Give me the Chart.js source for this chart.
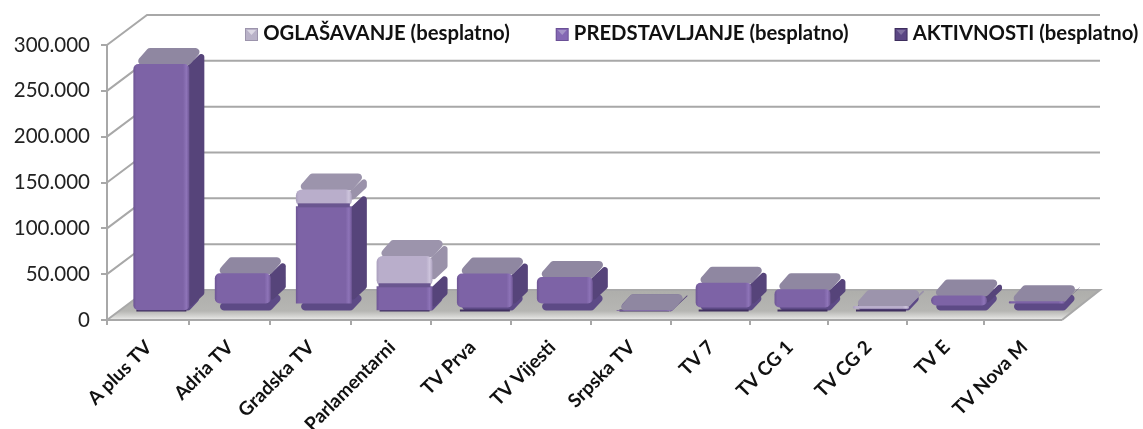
<!DOCTYPE html>
<html><head><meta charset="utf-8">
<style>html,body{margin:0;padding:0;background:#fff}#w{width:1143px;height:429px;position:relative}</style>
<script src="https://cdn.jsdelivr.net/npm/chart.js@4/dist/chart.umd.min.js"></script>
</head><body><div id="w"><canvas id="c" width="1143" height="429"></canvas></div>
<script>
const categories=['A plus TV','Adria TV','Gradska TV','Parlamentarni','TV Prva','TV Vijesti','Srpska TV','TV 7','TV CG 1','TV CG 2','TV E','TV Nova M'];
const aktivnosti=[1500,8700,8700,1500,4400,8700,500,4400,4400,3000,6500,8700];
const predstavljanje=[268500,33000,106000,26000,37000,29000,1000,27000,20000,0,11000,2500];
const oglasavanje=[0,0,18500,33000,0,0,0,0,0,3000,0,0];
const seriesNames=['AKTIVNOSTI (besplatno)','PREDSTAVLJANJE (besplatno)','OGLAŠAVANJE (besplatno)'];
const legendColors=[['#5b4784','#3d2d5c','#7f70a0'],['#8468b4','#6a5096','#a594c8'],['#b9b2c8','#9c94ac','#dcd8e4']];
const yTicks=[0,50000,100000,150000,200000,250000,300000];

const DEPTH_X=40,DEPTH_Y=30;
const BAR_DX=13.5,BAR_DY=8.5;
const CAP_X=15,CAP_Y=16;
const GRID='#a8a8a8';
const LEGEND_X=245,LEGEND_Y=33,LEGEND_FONT=20.3,LEGEND_PAD=46,LEGEND_BOX=8;

class PerspectiveCategory extends Chart.CategoryScale{
  getPixelForValue(v){
    const p=super.getPixelForValue(v);
    const u=(p-this.left)/this.width;
    return p+this.width*.028*u*(1-u);
  }
}
PerspectiveCategory.id='perspective';
PerspectiveCategory.defaults=Chart.CategoryScale.defaults;
Chart.register(PerspectiveCategory);

function roundPoly(ctx,pts,r){
  const n=pts.length;
  let m=r;
  for(let i=0;i<n;i++){
    const p=pts[i],q=pts[(i+1)%n];
    m=Math.min(m,Math.hypot(p[0]-q[0],p[1]-q[1])*.3);
  }
  ctx.beginPath();
  ctx.moveTo((pts[n-1][0]+pts[0][0])/2,(pts[n-1][1]+pts[0][1])/2);
  for(let i=0;i<n;i++){
    const p=pts[i],q=pts[(i+1)%n];
    ctx.arcTo(p[0],p[1],q[0],q[1],m);
  }
  ctx.closePath();
}
function faceGradient(base,light,edge){
  return function(context){
    const chart=context.chart;
    if(!chart.chartArea||!chart.scales.x) return base;
    const el=chart.getDatasetMeta(context.datasetIndex).data[context.dataIndex];
    const w=el&&el.width?el.width:57;
    const x=chart.scales.x.getPixelForValue(context.dataIndex);
    const g=chart.ctx.createLinearGradient(x-w/2,0,x+w/2,0);
    g.addColorStop(0,edge);g.addColorStop(.06,base);g.addColorStop(.88,base);
    g.addColorStop(.94,light);g.addColorStop(1,edge);
    return g;
  };
}
const scene={
  id:'scene',
  beforeLayout(chart){
    const lg=chart.legend;
    if(lg&&!lg._flat){
      lg._flat=true;
      const fit=lg.fit;
      lg.fit=function(){fit.call(this);this.height=0;};
    }
  },
  afterLayout(chart){
    const lg=chart.legend;
    lg.left=LEGEND_X-LEGEND_PAD;lg.right=1400;lg.top=LEGEND_Y-10-LEGEND_PAD;lg.bottom=LEGEND_Y+30;
  },
  beforeDatasetsDraw(chart){
    const {ctx,chartArea:a,scales:{y}}=chart;
    ctx.save();
    ctx.font='bold '+LEGEND_FONT+'px Lato';
    let lx=LEGEND_X;
    [2,1,0].forEach(i=>{
      const c=legendColors[i],bx=lx,by=LEGEND_Y-5;
      ctx.fillStyle=c[1];ctx.fillRect(bx,by,13,13);
      ctx.fillStyle=c[0];ctx.fillRect(bx+1,by+1,11,11);
      ctx.fillStyle=c[2];ctx.beginPath();ctx.moveTo(bx+2,by+2);ctx.lineTo(bx+11,by+2);ctx.lineTo(bx+6.5,by+7);ctx.closePath();ctx.fill();
      lx+=LEGEND_BOX+LEGEND_FONT/2+ctx.measureText(seriesNames[i]).width+LEGEND_PAD;
    });
    const yb=y.getPixelForValue(0);
    const f=ctx.createLinearGradient(0,yb-DEPTH_Y,0,yb);
    f.addColorStop(0,'#aeaeab');f.addColorStop(.7,'#b6b6b3');f.addColorStop(.93,'#dededc');f.addColorStop(1,'#f2f2f1');
    ctx.fillStyle=f;
    ctx.beginPath();ctx.moveTo(a.left,yb);ctx.lineTo(a.left+DEPTH_X,yb-DEPTH_Y);
    ctx.lineTo(a.right+DEPTH_X-2,yb-DEPTH_Y);ctx.lineTo(a.right,yb);ctx.closePath();ctx.fill();
    ctx.strokeStyle=GRID;ctx.lineWidth=2;
    yTicks.forEach(v=>{
      const p=y.getPixelForValue(v);
      ctx.beginPath();ctx.moveTo(a.left,p);ctx.lineTo(a.left+DEPTH_X,p-DEPTH_Y);
      ctx.lineTo(a.right+DEPTH_X-2,p-DEPTH_Y);
      if(v===0) ctx.lineTo(a.right,p);
      ctx.stroke();
    });
    ctx.beginPath();ctx.moveTo(a.left,yb);ctx.lineTo(a.right,yb);ctx.stroke();
    ctx.translate(BAR_DX,-BAR_DY);
    for(let j=0;j<categories.length;j++){
      const d=chart.getDatasetMeta(0).data[j];
      const x0=d.x-d.width/2,x1=d.x+d.width/2;
      ctx.fillStyle='#5d4a86';
      roundPoly(ctx,[[x0,d.base],[x1,d.base],[x1+CAP_X,d.base-CAP_Y],[x0+CAP_X,d.base-CAP_Y]],4);ctx.fill();
      if(aktivnosti[j]<5000){
        ctx.fillStyle='#40305f';
        ctx.fillRect(x0+3,d.base-1,d.width-6,2);
      }
      const pe=chart.getDatasetMeta(1).data[j],le=chart.getDatasetMeta(2).data[j];
      const hasP=predstavljanje[j]>0,hasL=oglasavanje[j]>0;
      if(hasP){
        ctx.fillStyle='#56447a';
        roundPoly(ctx,[[x1-2,pe.y+2],[x1+CAP_X,pe.y-CAP_Y+2],[x1+CAP_X,pe.base-CAP_Y],[x1-2,pe.base]],3);ctx.fill();
      }
      if(hasL){
        ctx.fillStyle='#9a92aa';
        roundPoly(ctx,[[x1-2,le.y+2],[x1+CAP_X,le.y-CAP_Y+2],[x1+CAP_X,le.base-CAP_Y-3],[x1-2,le.base-3]],3);ctx.fill();
      }
      const topY=hasL?le.y:(hasP?pe.y:d.base);
      ctx.fillStyle=hasL?'#9c94ac':'#8f87a1';
      roundPoly(ctx,[[x0,topY+1],[x1,topY+1],[x1+CAP_X,topY-CAP_Y],[x0+CAP_X,topY-CAP_Y]],4);ctx.fill();
    }
    ctx.restore();
    ctx.save();
    ctx.translate(BAR_DX,-BAR_DY);
  },
  afterDatasetsDraw(chart){
    const ctx=chart.ctx;
    for(let j=0;j<categories.length;j++){
      if(oglasavanje[j]>0&&predstavljanje[j]>0){
        const pe=chart.getDatasetMeta(1).data[j];
        ctx.fillStyle='#6a5690';
        ctx.fillRect(pe.x-pe.width/2+2,pe.y-3,pe.width-4,4);
      }
    }
    ctx.restore();
  }
};
Chart.register(scene);
new Chart(document.getElementById('c'),{
  type:'bar',
  data:{labels:categories,datasets:[
    {label:seriesNames[0],data:aktivnosti,backgroundColor:'rgba(0,0,0,0)',borderWidth:0},
    {label:seriesNames[1],data:predstavljanje,backgroundColor:faceGradient('#7d63a6','#8e74b8','#6a5290'),borderRadius:5,borderSkipped:false},
    {label:seriesNames[2],data:oglasavanje,backgroundColor:faceGradient('#b9aecb','#cdc4dc','#a79cba'),borderRadius:6,borderSkipped:false}
  ]},
  options:{
    responsive:false,animation:false,
    layout:{padding:{top:45,right:81,left:0,bottom:0}},
    datasets:{bar:{categoryPercentage:1,barPercentage:.72}},
    plugins:{
      tooltip:{enabled:false},
      legend:{position:'top',align:'start',reverse:true,
        labels:{padding:LEGEND_PAD,boxWidth:LEGEND_BOX,boxHeight:13,color:'#111',
          font:{family:'Lato',weight:'bold',size:LEGEND_FONT},
          generateLabels:()=>seriesNames.map((t,i)=>({text:t,fillStyle:'rgba(0,0,0,0)',strokeStyle:'rgba(0,0,0,0)',lineWidth:0,datasetIndex:i,fontColor:'#111'}))
        }
      }
    },
    scales:{
      x:{type:'perspective',stacked:true,
        afterFit(s){s.height=109;},
        grid:{display:true,drawOnChartArea:false,color:GRID,lineWidth:2,tickLength:5,offset:true},
        border:{display:false},
        ticks:{color:'#111',font:{family:'Lato',weight:'bold',size:19},maxRotation:45,minRotation:45,labelOffset:1,padding:11,autoSkip:false}
      },
      y:{stacked:true,min:0,max:300000,
        afterFit(s){s.width=107;},
        grid:{drawOnChartArea:false,color:GRID,lineWidth:2,tickLength:6},
        border:{display:true,color:GRID,width:2},
        ticks:{color:'#222',font:{family:'Lato',size:20.5},stepSize:50000,padding:11,
          callback:v=>String(v).replace(/\B(?=(\d{3})+$)/g,'.')}
      }
    }
  }
});
</script></body></html>
